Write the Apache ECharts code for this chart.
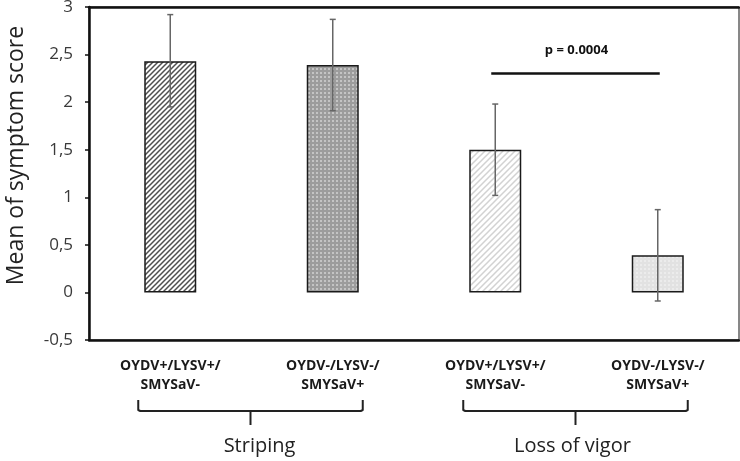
<!DOCTYPE html>
<html>
<head>
<meta charset="utf-8">
<script src="https://cdn.jsdelivr.net/npm/echarts@6/dist/echarts.min.js"></script>
<style>html,body{margin:0;padding:0;background:#fff;}#c{width:740px;height:461px;}</style>
</head>
<body>
<div id="c"></div>
<script>
// ---- data ----
const categories = ['OYDV+/LYSV+/\nSMYSaV-', 'OYDV-/LYSV-/\nSMYSaV+', 'OYDV+/LYSV+/\nSMYSaV-', 'OYDV-/LYSV-/\nSMYSaV+'];
const means = [2.43, 2.39, 1.50, 0.39];
const errLow = [1.95, 1.91, 1.02, -0.09];
const errHigh = [2.92, 2.87, 1.98, 0.87];
const groups = [
  { from: 0, to: 1, name: 'Striping' },
  { from: 2, to: 3, name: 'Loss of vigor' }
];
const sigFrom = 2, sigTo = 3, sigY = 2.3, sigLabel = 'p = 0.0004';
const yTicks = { min: -0.5, max: 3, interval: 0.5 };

// ---- patterns ----
function hatch(bg, fg, size, lw) {
  const c = document.createElement('canvas');
  c.width = size; c.height = size;
  const g = c.getContext('2d');
  g.fillStyle = bg; g.fillRect(0, 0, size, size);
  g.strokeStyle = fg; g.lineWidth = lw;
  g.beginPath();
  g.moveTo(-1, size + 1); g.lineTo(size + 1, -1);
  g.moveTo(-1, 1); g.lineTo(1, -1);
  g.moveTo(size - 1, size + 1); g.lineTo(size + 1, size - 1);
  g.stroke();
  return { image: c, repeat: 'repeat' };
}
function dots(bg, fg, size, d) {
  const c = document.createElement('canvas');
  c.width = size; c.height = size;
  const g = c.getContext('2d');
  g.fillStyle = bg; g.fillRect(0, 0, size, size);
  g.fillStyle = fg; g.fillRect(0, 0, d, d);
  return { image: c, repeat: 'repeat' };
}
const fills = [
  hatch('#ffffff', '#505050', 5, 1.5),
  dots('#9c9c9c', '#c4c4c4', 4, 2),
  hatch('#ffffff', '#d2d2d2', 6, 1.5),
  dots('#e2e2e2', '#ececec', 4, 2)
];

const font = '"Open Sans", "Noto Sans", sans-serif';
const chart = echarts.init(document.getElementById('c'), null, { renderer: 'canvas' });

chart.setOption({
  animation: false,
  backgroundColor: '#ffffff',
  grid: { left: 89, right: 1, top: 7, bottom: 121, show: true, borderColor: '#111', borderWidth: 1, containLabel: false, outerBoundsMode: 'none' },
  xAxis: [
    {
      type: 'category',
      data: categories,
      axisLine: { onZero: false, lineStyle: { color: '#111', width: 2.5 } },
      axisTick: { show: false },
      axisLabel: { interval: 0, margin: 17, fontFamily: font, fontWeight: 'bold', fontSize: 14, lineHeight: 19, color: '#1a1a1a' }
    },
    {
      type: 'category',
      position: 'top',
      data: categories,
      axisLine: { onZero: false, lineStyle: { color: '#111', width: 2.5 } },
      axisTick: { show: false },
      axisLabel: { show: false }
    }
  ],
  yAxis: {
    type: 'value',
    min: yTicks.min, max: yTicks.max, interval: yTicks.interval,
    name: 'Mean of symptom score',
    nameLocation: 'middle',
    nameGap: 61,
    nameTextStyle: { fontFamily: font, fontSize: 23, color: '#222', padding: [0, 0, 0, 36] },
    axisLine: { show: true, onZero: false, lineStyle: { color: '#111', width: 2.5 } },
    axisTick: { show: true, length: 4, lineStyle: { color: '#111', width: 1.5 } },
    splitLine: { show: false },
    axisLabel: {
      margin: 16, fontFamily: font, fontSize: 17, color: '#3a3a3a',
      formatter: v => String(Math.round(v * 10) / 10).replace('.', ',')
    }
  },
  series: [
    {
      type: 'bar',
      barWidth: 52,
      data: means.map((v, i) => ({ value: v, itemStyle: { color: fills[i] } })),
      itemStyle: { borderColor: '#1a1a1a', borderWidth: 1.5 },
      z: 2
    },
    {
      type: 'custom',
      data: means.map((v, i) => [i, errLow[i], errHigh[i]]),
      renderItem: function (params, api) {
        const x = api.value(0);
        const lo = api.coord([x, api.value(1)]);
        const hi = api.coord([x, api.value(2)]);
        const cap = 3;
        const st = { stroke: '#666', lineWidth: 1.5 };
        return {
          type: 'group',
          children: [
            { type: 'line', shape: { x1: lo[0], y1: lo[1], x2: hi[0], y2: hi[1] }, style: st },
            { type: 'line', shape: { x1: hi[0] - cap, y1: hi[1], x2: hi[0] + cap, y2: hi[1] }, style: st },
            { type: 'line', shape: { x1: lo[0] - cap, y1: lo[1], x2: lo[0] + cap, y2: lo[1] }, style: st }
          ]
        };
      },
      z: 3
    },
    {
      type: 'custom',
      data: [[sigFrom, sigTo, sigY]],
      renderItem: function (params, api) {
        const a = api.coord([api.value(0), api.value(2)]);
        const b = api.coord([api.value(1), api.value(2)]);
        return {
          type: 'group',
          children: [
            { type: 'line', shape: { x1: a[0] - 4, y1: a[1], x2: b[0] + 2, y2: b[1] }, style: { stroke: '#111', lineWidth: 2.5 } },
            { type: 'text', style: { x: (a[0] + b[0]) / 2, y: a[1] - 23, text: sigLabel, align: 'center', verticalAlign: 'middle', fontFamily: font, fontWeight: 'bold', fontSize: 13, fill: '#111' } }
          ]
        };
      },
      z: 4
    },
    {
      type: 'custom',
      data: groups.map(g => [g.from, g.to, g.name]),
      clip: false,
      renderItem: function (params, api) {
        const base = api.coord([api.value(0), yTicks.min]);
        const end = api.coord([api.value(1), yTicks.min]);
        const name = groups[params.dataIndex].name;
        const y0 = base[1] + 60, y1 = base[1] + 71, y2 = base[1] + 85;
        const l = base[0] - 32, r = end[0] + 30, m = (l + r) / 2;
        const st = { stroke: '#222', lineWidth: 2, fill: null, lineJoin: 'round' };
        return {
          type: 'group',
          children: [
            { type: 'polyline', shape: { points: [[l, y0], [l, y1 - 1], [l + 2, y1], [r - 2, y1], [r, y1 - 1], [r, y0]] }, style: st },
            { type: 'line', shape: { x1: m, y1: y1, x2: m, y2: y2 }, style: st },
            { type: 'text', style: { x: m + (params.dataIndex === 0 ? 9 : -3), y: base[1] + 106, text: name, align: 'center', verticalAlign: 'middle', fontFamily: font, fontSize: 20, fill: '#222' } }
          ]
        };
      },
      z: 4
    }
  ]
});
</script>
</body>
</html>
